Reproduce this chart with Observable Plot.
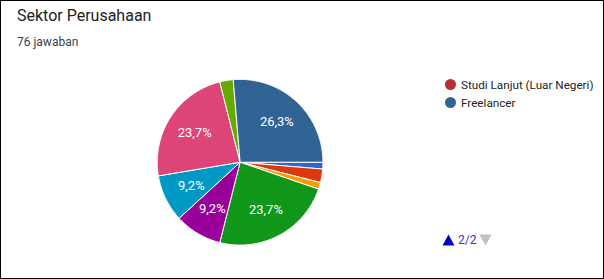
<!DOCTYPE html>
<html>
<head>
<meta charset="utf-8">
<script src="https://cdn.jsdelivr.net/npm/d3@7"></script>
<script src="https://cdn.jsdelivr.net/npm/@observablehq/plot@0.6"></script>
<style>
  html, body { margin: 0; padding: 0; background: #fff; }
  #frame { position: relative; width: 604px; height: 279px; box-sizing: border-box; border: 1px solid #000; overflow: hidden; font-family: Roboto, sans-serif; }
  #title { position: absolute; left: 16px; top: 5px; font-size: 16px; color: #202124; }
  #sub { position: absolute; left: 16px; top: 34px; font-size: 12px; color: #3c4043; }
  #chart { position: absolute; left: -1px; top: -1px; }
  .leg { position: absolute; left: 444px; font-size: 11.7px; color: #222; white-space: nowrap; }
  .leg span.dot { display: inline-block; width: 11px; height: 11px; border-radius: 50%; vertical-align: -1px; margin-right: 5px; }
  #pager { position: absolute; left: 441px; top: 232px; font-size: 12px; color: #3333cc; white-space: nowrap; }
  #pager svg { vertical-align: -2px; }
</style>
</head>
<body>
<div id="frame">
  <div id="title">Sektor Perusahaan</div>
  <div id="sub">76 jawaban</div>
  <div id="chart"></div>
  <div id="legend"></div>
  <div id="pager"><svg width="13" height="12"><path d="M0.5,11.5L6.5,0.5L12.5,11.5Z" fill="#0000cc"/></svg> 2/2 <svg width="13" height="12"><path d="M0.5,0.5L6.5,11.5L12.5,0.5Z" fill="#c0c0c0"/></svg></div>
</div>
<script>
// Data (counts of 76 responses), in the chart's slice order
const categories = ["Kategori 1", "Kategori 2", "Kategori 3", "Kategori 4", "Kategori 5", "Kategori 6", "Kategori 7", "Kategori 8", "Studi Lanjut (Luar Negeri)", "Freelancer"];
const counts = [1, 2, 1, 18, 7, 7, 18, 2, 0, 20];
const colors = ["#3366cc", "#dc3912", "#ff9900", "#109618", "#990099", "#0099c6", "#dd4477", "#66aa00", "#b82e2e", "#316395"];
const legendShown = ["Studi Lanjut (Luar Negeri)", "Freelancer"];

const total = d3.sum(counts);
const pie = d3.pie().sort(null).value(d => d.v).startAngle(Math.PI / 2).endAngle(Math.PI / 2 + 2 * Math.PI);
const arcs = pie(categories.map((c, i) => ({c, v: counts[i], col: colors[i]})));

// polygon vertices (unit circle, data space)
const verts = [];
const labels = [];
arcs.forEach((a, i) => {
  if (a.endAngle - a.startAngle <= 0) return;
  verts.push({k: i, x: 0, y: 0, col: a.data.col});
  const n = Math.max(2, Math.ceil((a.endAngle - a.startAngle) / (Math.PI / 180)));
  for (let j = 0; j <= n; j++) {
    const t = a.startAngle + (a.endAngle - a.startAngle) * j / n;
    verts.push({k: i, x: Math.sin(t), y: Math.cos(t), col: a.data.col});
  }
  verts.push({k: i, x: 0, y: 0, col: a.data.col});
  const frac = a.data.v / total;
  if (frac > 0.05) {
    const m = (a.startAngle + a.endAngle) / 2;
    labels.push({x: 0.655 * Math.sin(m), y: 0.655 * Math.cos(m), t: (frac * 100).toFixed(1).replace(".", ",") + "%"});
  }
});

const cx = 240, cy = 162, R = 83;
const plot = Plot.plot({
  width: 604,
  height: 279,
  margin: 0,
  style: {background: "transparent", fontFamily: "Roboto, sans-serif"},
  x: {domain: [-1, 1], range: [cx - R, cx + R], axis: null},
  y: {domain: [-1, 1], range: [cy + R, cy - R], axis: null},
  marks: [
    Plot.line(verts, {x: "x", y: "y", z: "k", fill: "col", stroke: "#fff", strokeWidth: 1, strokeLinejoin: "round", curve: "linear"}),
    Plot.text(labels, {x: "x", y: "y", text: "t", fill: "#fff", fontSize: 13})
  ]
});
document.getElementById("chart").appendChild(plot);

const leg = document.getElementById("legend");
legendShown.forEach((name, i) => {
  const d = document.createElement("div");
  d.className = "leg";
  d.style.top = (77 + i * 18) + "px";
  const col = colors[categories.indexOf(name)];
  d.innerHTML = `<span class="dot" style="background:${col}"></span>${name}`;
  leg.appendChild(d);
});
</script>
</body>
</html>
